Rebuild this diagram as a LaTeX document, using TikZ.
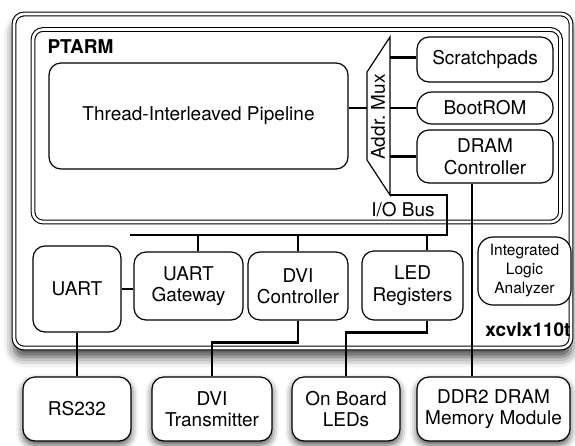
\documentclass[tikz,border=0pt]{standalone}
\usepackage{fontspec}
\setmainfont{TeX Gyre Heros}
\usetikzlibrary{shadows.blur}

\begin{document}
\begin{tikzpicture}[x=1pt, y=-1pt,
    blk/.style={rectangle, draw, line width=1.2pt, rounded corners=12pt, fill=white, align=center, inner sep=0pt, font=\fontsize{19}{21.5}\selectfont},
    ext/.style={blk, blur shadow={shadow xshift=0pt, shadow yshift=-4pt, shadow blur radius=7pt, shadow opacity=70}},
    frame/.style={draw, line width=1.1pt, double, double distance=2.6pt, rounded corners=10pt},
    wire/.style={line width=2.7pt},
    lbl/.style={font=\bfseries\fontsize{19}{21.5}\selectfont}]
    \useasboundingbox (0,0) rectangle (575,445);

    % FPGA board
    \draw[frame, fill=white, blur shadow={shadow xshift=0pt, shadow yshift=-9pt, shadow blur radius=10pt, shadow opacity=75}] (14,14) rectangle (571,348);
    \node[lbl] (XCV) at (528,330) {xcvlx110t};

    % PTARM core
    \draw[frame] (33,29.5) rectangle (560.5,222);
    \node[lbl, anchor=west] (PTARM) at (44,47) {PTARM};
    \node[blk, minimum width=299pt, minimum height=106pt] (PIPE) at (198.5,116) {Thread-Interleaved Pipeline};

    % Address mux
    \coordinate (MUXTR) at (390,37);
    \coordinate (MUXTL) at (367,72);
    \coordinate (MUXBL) at (367,160);
    \coordinate (MUXBR) at (390,195);
    \draw[line width=1.2pt] (MUXTR) -- (MUXTL) -- (MUXBL) -- (MUXBR) -- cycle;
    \node[rotate=90, font=\fontsize{19}{21.5}\selectfont] (MUX) at (378,117) {Addr.\ Mux};

    % Memories
    \node[blk, minimum width=136pt, minimum height=45pt] (SCR) at (485,59.5) {Scratchpads};
    \node[blk, minimum width=136pt, minimum height=32pt, rounded corners=15pt] (ROM) at (485,108) {BootROM};
    \node[blk, minimum width=136pt, minimum height=53pt] (DRAMC) at (485,156.5) {DRAM\\Controller};

    % I/O bus
    \coordinate (BUSL) at (130,235);
    \coordinate (BUSR) at (447,235);
    \node[font=\fontsize{19}{21.5}\selectfont] (IOBUS) at (403,210) {I/O Bus};

    % Peripherals
    \node[blk, minimum width=88pt, minimum height=86pt] (UART) at (77,289) {UART};
    \node[blk, minimum width=109pt, minimum height=68pt] (GW) at (188.5,286) {UART\\Gateway};
    \node[blk, minimum width=100pt, minimum height=68pt] (DVIC) at (298,286) {DVI\\Controller};
    \node[blk, minimum width=101pt, minimum height=69pt] (LEDR) at (412.5,285.5) {LED\\Registers};
    \node[blk, minimum width=93pt, minimum height=68pt, rounded corners=15pt, font=\fontsize{15.5}{19}\selectfont] (ILA) at (524.5,271) {Integrated\\Logic\\Analyzer};

    % Off-chip devices
    \node[ext, minimum width=108pt, minimum height=64pt] (RS) at (77,409) {RS232};
    \node[ext, minimum width=120pt, minimum height=64pt] (DVIT) at (212,409) {DVI\\Transmitter};
    \node[ext, minimum width=108pt, minimum height=64pt] (LEDS) at (346,409) {On Board\\LEDs};
    \node[ext, minimum width=153pt, minimum height=64pt] (DDR) at (493.5,409) {DDR2 DRAM\\Memory Module};

    % Connections
    \draw[wire] ([yshift=8pt]PIPE.east) -- ([yshift=8pt]PIPE.east -| MUXTL);
    \draw[wire] ([yshift=2pt]SCR.west) -- ([yshift=2pt]SCR.west -| MUXTR);
    \draw[wire] (ROM.west) -- (ROM.west -| MUXTR);
    \draw[wire] (DRAMC.west) -- (DRAMC.west -| MUXTR);

    \draw[wire] (MUXBR) -| (BUSR) -- (BUSL);
    \draw[wire] ([xshift=9.5pt]GW.north) -- ([xshift=9.5pt]GW.north |- BUSL);
    \draw[wire] (DVIC.north) -- (DVIC.north |- BUSL);
    \draw[wire] ([xshift=14.5pt]LEDR.north) -- ([xshift=14.5pt]LEDR.north |- BUSL);
    \draw[wire] (UART.east) -- (UART.east -| GW.west);

    \draw[wire] (UART.south) -- (RS.north);
    \draw[wire] (DVIC.south) -- ++(0,22) -| (DVIT.north);
    \draw[wire] ([xshift=14.5pt]LEDR.south) -- ++(0,12) -| (LEDS.north);
    \draw[wire] ([xshift=-13pt]DRAMC.south) -- ([xshift=-13pt]DRAMC.south |- DDR.north);
\end{tikzpicture}
\end{document}
